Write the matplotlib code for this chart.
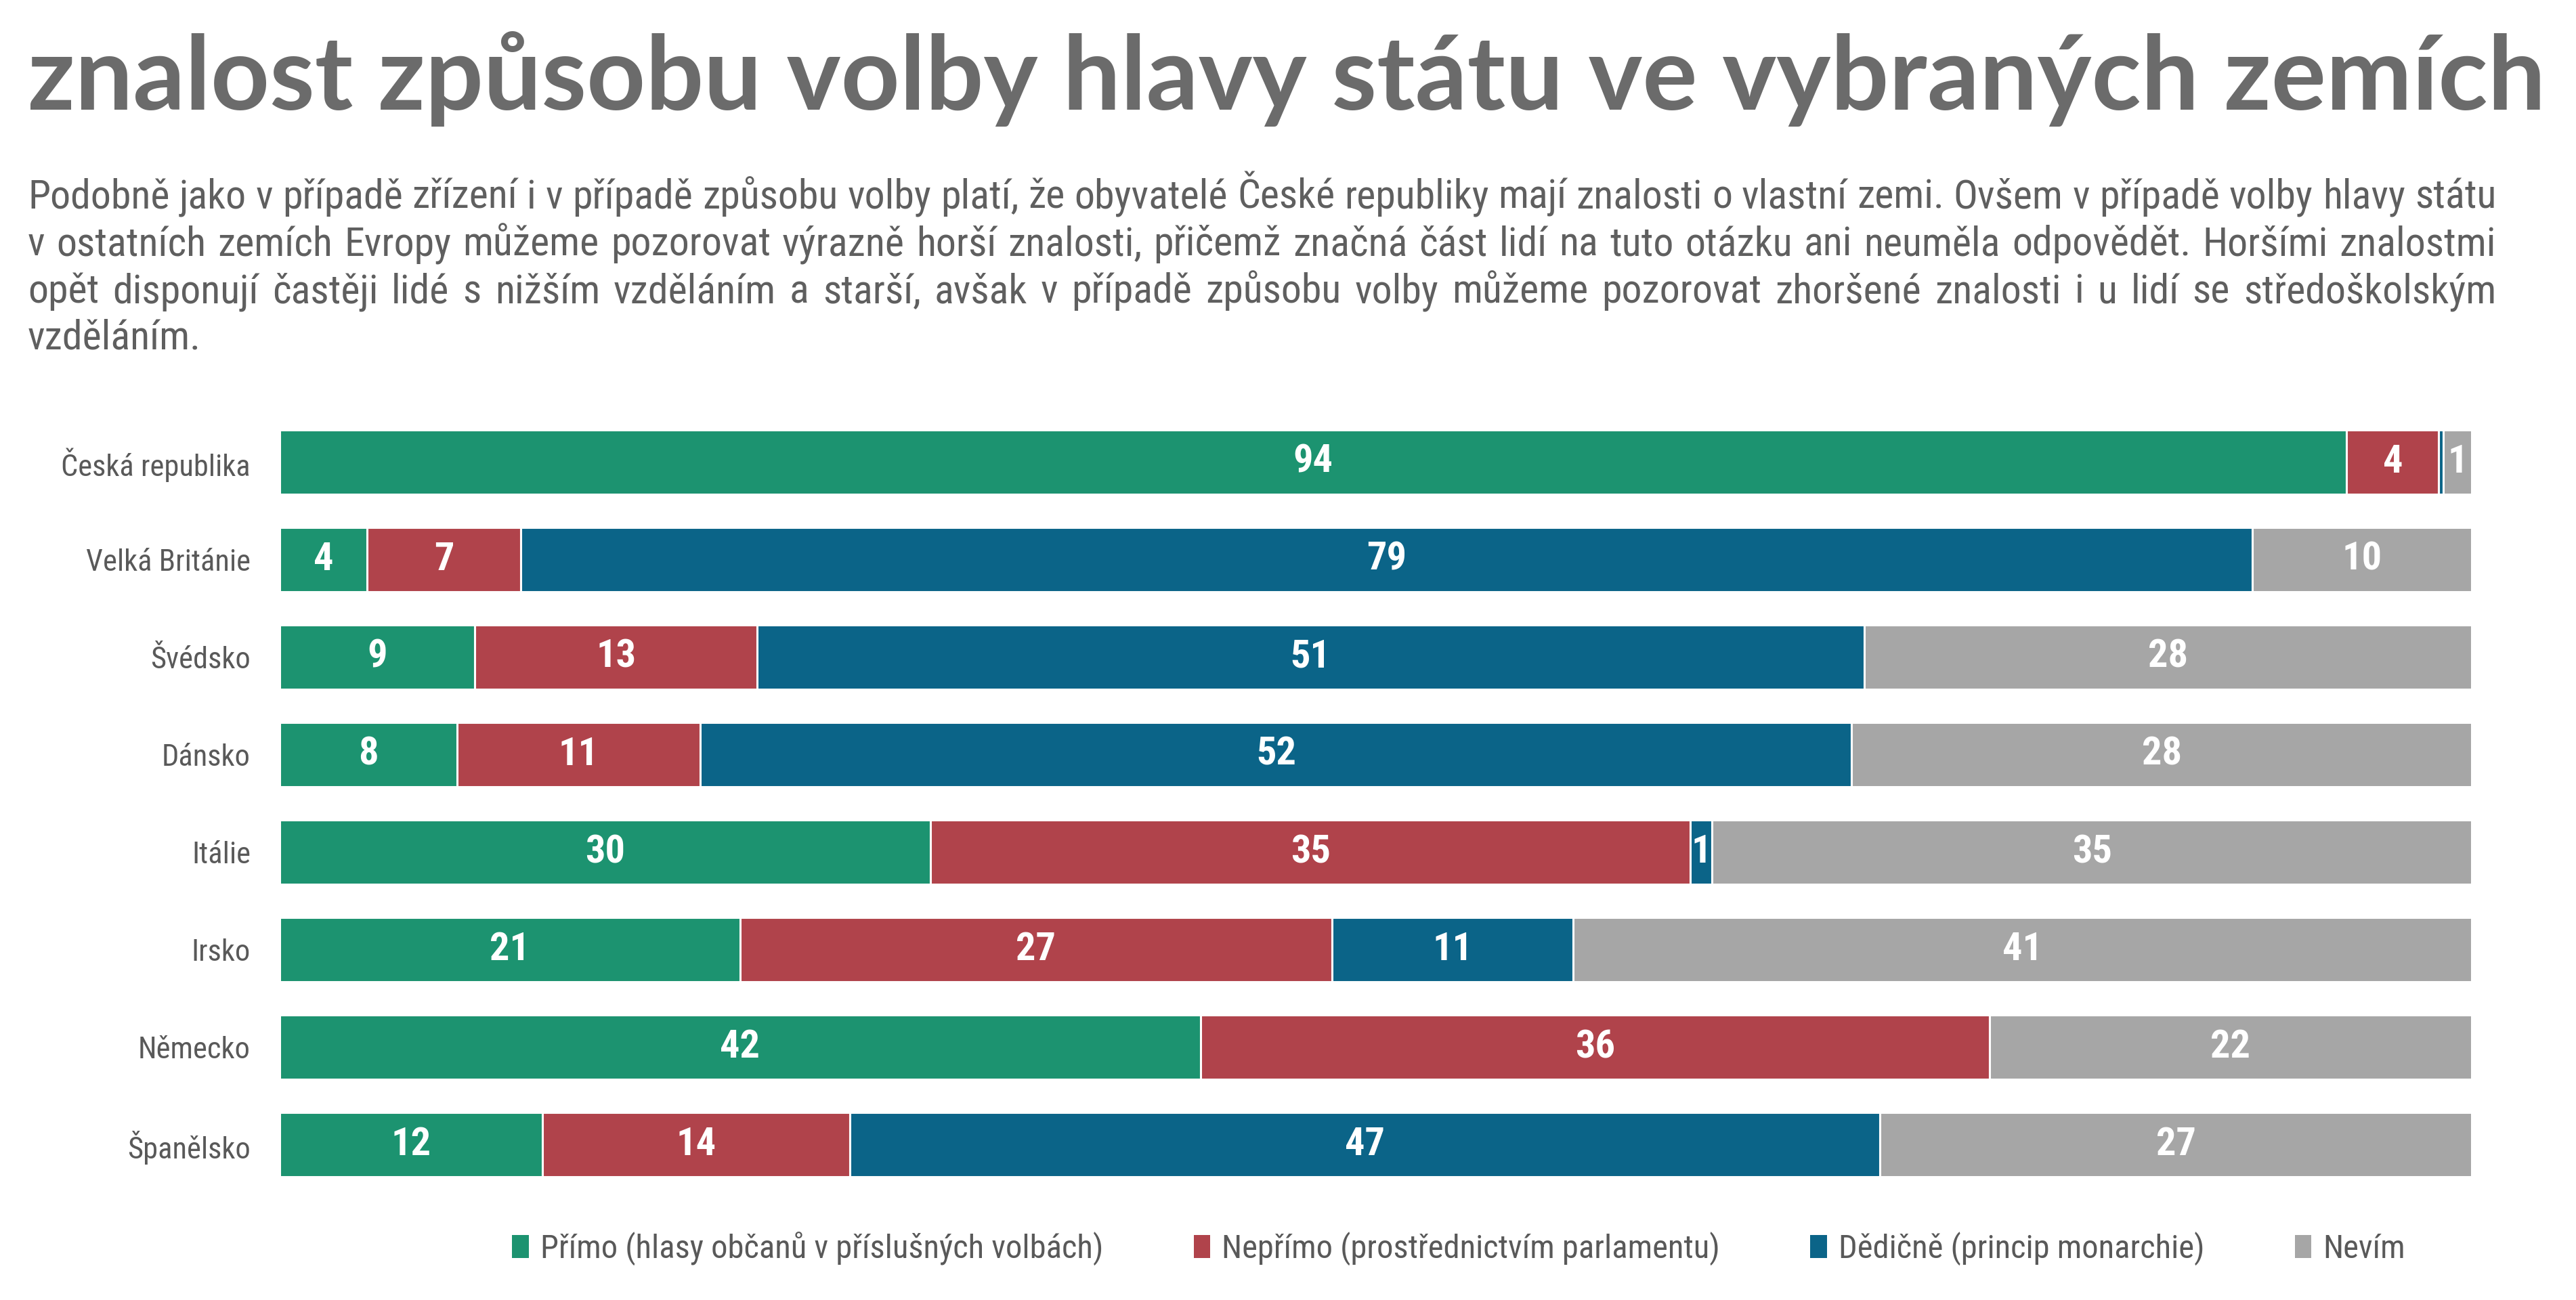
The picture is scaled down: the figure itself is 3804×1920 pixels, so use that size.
import matplotlib
matplotlib.use('Agg')
import matplotlib.pyplot as plt
from matplotlib import font_manager as fm
from matplotlib.font_manager import FontProperties
from matplotlib.patches import Patch
import numpy as np

# data
countries = ['Česká republika', 'Velká Británie', 'Švédsko', 'Dánsko',
             'Itálie', 'Irsko', 'Německo', 'Španělsko']
primo = [94.2, 4, 9, 8, 30, 21, 42, 12]
neprimo = [4.2, 7, 13, 11, 35, 27, 36, 14]
dedicne = [0.2, 79, 51, 52, 1, 11, 0, 47]
nevim = [1.3, 10, 28, 28, 35, 41, 22, 27]
series_names = ['Přímo (hlasy občanů v příslušných volbách)',
                'Nepřímo (prostřednictvím parlamentu)',
                'Dědičně (princip monarchie)',
                'Nevím']
colors = ['#1c9370', '#b0434b', '#0b6488', '#a6a6a6']

title = 'znalost způsobu volby hlavy státu ve vybraných zemích'
paragraph = [
    'Podobně jako v případě zřízení i v případě způsobu volby platí, že obyvatelé České republiky mají znalosti o vlastní zemi. Ovšem v případě volby hlavy státu',
    'v ostatních zemích Evropy můžeme pozorovat výrazně horší znalosti, přičemž značná část lidí na tuto otázku ani neuměla odpovědět. Horšími znalostmi',
    'opět disponují častěji lidé s nižším vzděláním a starší, avšak v případě způsobu volby můžeme pozorovat zhoršené znalosti i u lidí se středoškolským',
    'vzděláním.',
]

# fonts
faces = {(f.name, f.stretch) for f in fm.fontManager.ttflist}
names = {f.name for f in fm.fontManager.ttflist}
narrow = 'Liberation Sans'
for cand in ['Roboto Condensed', 'Liberation Sans Narrow', 'Open Sans Condensed']:
    if cand in names:
        narrow = cand
        break
narrow_fam = [narrow, 'DejaVu Sans']

W, H = 3805, 1920
fig = plt.figure(figsize=(W / 100, H / 100), dpi=100)
fig.patch.set_facecolor('white')
renderer = fig.canvas.get_renderer()


def fx(px):
    return px / W


def fy(py):
    return 1 - py / H


def text_w(s, prop):
    return renderer.get_text_width_height_descent(s, prop, ismath=False)[0]


# title: pick the face whose height fits best once fitted to width
title_w, title_asc = 3718, 112
best = None
cands = [('DejaVu Sans', 'normal'), ('DejaVu Sans', 'condensed'),
         ('Noto Sans', 'condensed'), ('Noto Sans', 'semi-condensed'),
         ('Noto Sans', 'normal'), ('Open Sans', 'normal'), ('Lato', 'normal'),
         ('Roboto', 'normal'), (narrow, 'normal')]
for fam, st in cands:
    if (fam, st) not in faces:
        continue
    p = FontProperties(family=fam, weight='bold', stretch=st, size=100)
    size = 100 * title_w / text_w(title, p)
    p.set_size(size)
    asc = renderer.get_text_width_height_descent('l', p, ismath=False)[1]
    score = abs(asc - title_asc)
    if best is None or score < best[0]:
        best = (score, p)
fig.text(fx(41), fy(162), title, fontproperties=best[1],
         color='#6b6b6b', va='baseline', ha='left')

# justified paragraph
x0, x1 = 41, 3686
pp = FontProperties(family=narrow, size=40)
pp.set_size(40 * (x1 - x0) / text_w(paragraph[0], pp))
baselines = [308, 377, 447, 516]
space = text_w('a b', pp) - text_w('ab', pp)
for i, line in enumerate(paragraph):
    words = line.split(' ')
    widths = [text_w(wd, pp) for wd in words]
    if i < len(paragraph) - 1 and len(words) > 1:
        gap = (x1 - x0 - sum(widths)) / (len(words) - 1)
    else:
        gap = space
    x = x0
    for wd, ww in zip(words, widths):
        fig.text(fx(x), fy(baselines[i]), wd, fontproperties=pp, color='#5f5f5f',
                 va='baseline', ha='left')
        x += ww + gap

# bars
ax = fig.add_axes([fx(413), fy(1763), fx(3650) - fx(413), (1763 - 610) / H])
data = np.array([primo, neprimo, dedicne, nevim], dtype=float)
shares = data / data.sum(axis=0) * 100
y = np.arange(len(countries))
left = np.zeros(len(countries))
for k in range(4):
    ax.barh(y, shares[k], left=left, height=0.66, color=colors[k],
            edgecolor='white', linewidth=2.2)
    for j in range(len(countries)):
        if data[k, j] >= 0.5:
            ax.text(left[j] + shares[k, j] / 2, y[j], f'{data[k, j]:.0f}',
                    ha='center', va='center', color='white', fontsize=42,
                    fontweight='bold', family=narrow_fam)
    left += shares[k]

ax.set_xlim(0, 100)
ax.set_ylim(len(countries) - 0.5, -0.5)
ax.set_yticks(y)
ax.set_yticklabels(countries, family=narrow_fam, fontsize=32, color='#595959')
ax.tick_params(axis='y', length=0, pad=31)
ax.set_xticks([])
for s in ax.spines.values():
    s.set_visible(False)

handles = [Patch(facecolor=c, edgecolor='none') for c in colors]
leg = fig.legend(handles, series_names, loc='center',
                 bbox_to_anchor=(fx(2154), fy(1844)), ncol=4, frameon=False,
                 prop={'family': narrow_fam, 'size': 35},
                 handlelength=0.5, handleheight=0.7, handletextpad=0.35,
                 columnspacing=2.75)
for tx in leg.get_texts():
    tx.set_color('#595959')

fig.savefig('out.png', dpi=100, facecolor='white')
